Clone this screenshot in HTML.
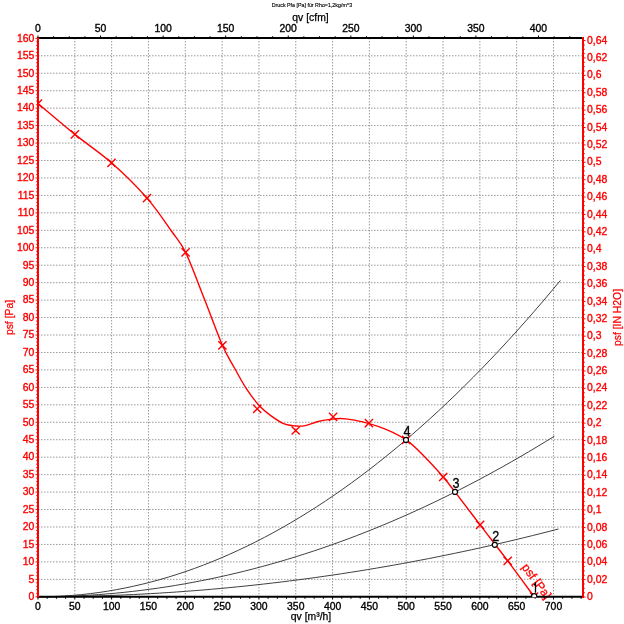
<!DOCTYPE html><html><head><meta charset="utf-8"><style>
html,body{margin:0;padding:0;background:#fff;}
svg{display:block;filter:blur(0.3px);font-family:"Liberation Sans",sans-serif;}
</style></head><body>
<svg width="624" height="624" viewBox="0 0 624 624">
<rect width="624" height="624" fill="#fff"/>
<path d="M74.82 38.0V597.0M111.64 38.0V597.0M148.46 38.0V597.0M185.29 38.0V597.0M222.11 38.0V597.0M258.93 38.0V597.0M295.75 38.0V597.0M332.57 38.0V597.0M369.39 38.0V597.0M406.21 38.0V597.0M443.04 38.0V597.0M479.86 38.0V597.0M516.68 38.0V597.0M553.50 38.0V597.0M38.0 579.35H583.0M38.0 561.90H583.0M38.0 544.44H583.0M38.0 526.99H583.0M38.0 509.54H583.0M38.0 492.09H583.0M38.0 474.64H583.0M38.0 457.18H583.0M38.0 439.73H583.0M38.0 422.28H583.0M38.0 404.83H583.0M38.0 387.38H583.0M38.0 369.92H583.0M38.0 352.47H583.0M38.0 335.02H583.0M38.0 317.57H583.0M38.0 300.12H583.0M38.0 282.66H583.0M38.0 265.21H583.0M38.0 247.76H583.0M38.0 230.31H583.0M38.0 212.86H583.0M38.0 195.40H583.0M38.0 177.95H583.0M38.0 160.50H583.0M38.0 143.05H583.0M38.0 125.60H583.0M38.0 108.14H583.0M38.0 90.69H583.0M38.0 73.24H583.0M38.0 55.79H583.0" stroke="#9a9a9a" stroke-width="1" stroke-dasharray="1.5 1.5" fill="none"/>
<polyline points="38.00,596.80 46.71,596.71 55.41,596.45 64.12,596.01 72.83,595.39 81.54,594.60 90.24,593.64 98.95,592.49 107.66,591.18 116.36,589.68 125.07,588.01 133.78,586.17 142.48,584.15 151.19,581.95 159.90,579.58 168.61,577.03 177.31,574.30 186.02,571.40 194.73,568.33 203.43,565.08 212.14,561.65 220.85,558.05 229.55,554.27 238.26,550.31 246.97,546.18 255.68,541.88 264.38,537.40 273.09,532.74 281.80,527.91 290.50,522.90 299.21,517.71 307.92,512.35 316.63,506.82 325.33,501.10 334.04,495.22 342.75,489.15 351.45,482.91 360.16,476.50 368.87,469.91 377.57,463.14 386.28,456.20 394.99,449.08 403.70,441.79 412.40,434.32 421.11,426.67 429.82,418.85 438.52,410.86 447.23,402.68 455.94,394.33 464.64,385.81 473.35,377.11 482.06,368.24 490.77,359.18 499.47,349.96 508.18,340.55 516.89,330.98 525.59,321.22 534.30,311.29 543.01,301.19 551.72,290.90 560.42,280.45" fill="none" stroke="#404040" stroke-width="1.0"/>
<polyline points="38.00,596.80 46.61,596.76 55.21,596.62 63.82,596.40 72.43,596.09 81.03,595.68 89.64,595.19 98.24,594.61 106.85,593.94 115.46,593.19 124.06,592.34 132.67,591.40 141.28,590.37 149.88,589.26 158.49,588.05 167.10,586.76 175.70,585.38 184.31,583.90 192.92,582.34 201.52,580.69 210.13,578.95 218.73,577.12 227.34,575.20 235.95,573.20 244.55,571.10 253.16,568.91 261.77,566.64 270.37,564.27 278.98,561.82 287.59,559.27 296.19,556.64 304.80,553.92 313.40,551.11 322.01,548.21 330.62,545.22 339.22,542.14 347.83,538.97 356.44,535.71 365.04,532.37 373.65,528.93 382.26,525.41 390.86,521.79 399.47,518.09 408.07,514.30 416.68,510.42 425.29,506.44 433.89,502.38 442.50,498.23 451.11,493.99 459.71,489.67 468.32,485.25 476.93,480.74 485.53,476.15 494.14,471.46 502.75,466.69 511.35,461.82 519.96,456.87 528.56,451.83 537.17,446.70 545.78,441.48 554.38,436.17" fill="none" stroke="#404040" stroke-width="1.0"/>
<polyline points="38.00,596.80 46.68,596.78 55.35,596.72 64.03,596.63 72.70,596.50 81.38,596.33 90.05,596.12 98.73,595.88 107.40,595.59 116.08,595.27 124.75,594.92 133.43,594.52 142.10,594.09 150.78,593.62 159.45,593.11 168.13,592.56 176.80,591.98 185.48,591.35 194.15,590.70 202.83,590.00 211.50,589.26 220.18,588.49 228.85,587.68 237.53,586.83 246.20,585.95 254.88,585.02 263.55,584.06 272.23,583.06 280.90,582.03 289.58,580.95 298.25,579.84 306.93,578.69 315.60,577.51 324.28,576.28 332.95,575.02 341.63,573.72 350.30,572.38 358.98,571.01 367.65,569.59 376.33,568.14 385.01,566.65 393.68,565.13 402.36,563.56 411.03,561.96 419.71,560.32 428.38,558.65 437.06,556.93 445.73,555.18 454.41,553.39 463.08,551.56 471.76,549.70 480.43,547.79 489.11,545.85 497.78,543.87 506.46,541.86 515.13,539.80 523.81,537.71 532.48,535.58 541.16,533.42 549.83,531.21 558.51,528.97" fill="none" stroke="#404040" stroke-width="1.0"/>
<defs><clipPath id="pc"><rect x="38" y="38" width="545" height="559"/></clipPath></defs>
<path clip-path="url(#pc)" d="M38,103.5C44.15,108.65 62.65,124.52 74.9,134.4C87.15,144.28 99.48,152.18 111.5,162.8C123.52,173.42 137.02,186.73 147,198.1C156.98,209.47 164.97,221.95 171.4,231C177.83,240.05 180.17,241.22 185.6,252.4C191.03,263.58 197.87,282.62 204,298.1C210.13,313.58 217.32,333.65 222.4,345.3C227.48,356.95 230.48,360.73 234.5,368C238.52,375.27 242.32,382.57 246.5,388.9C250.68,395.23 255.55,401.55 259.6,406C263.65,410.45 266.78,412.65 270.8,415.6C274.82,418.55 279.55,421.97 283.7,423.7C287.85,425.43 292.10,425.68 295.7,426C299.30,426.32 301.70,426.32 305.3,425.6C308.90,424.88 313.43,422.70 317.3,421.7C321.17,420.70 323.72,420.07 328.5,419.6C333.28,419.13 337.75,417.77 346,418.9C354.25,420.03 368.00,422.92 378,426.4C388.00,429.88 398.03,434.53 406,439.8C413.97,445.07 419.60,451.80 425.8,458C432.00,464.20 438.33,471.35 443.2,477C448.07,482.65 448.85,483.92 455,491.9C461.15,499.88 471.32,513.40 480.1,524.9C488.88,536.40 498.70,548.95 507.7,560.9C516.70,572.85 529.70,590.65 534.1,596.6" fill="none" stroke="#ff0000" stroke-width="1.4" stroke-linejoin="round"/>
<path clip-path="url(#pc)" d="M33.90 99.40L42.10 107.60M33.90 107.60L42.10 99.40M70.80 130.30L79.00 138.50M70.80 138.50L79.00 130.30M107.40 158.70L115.60 166.90M107.40 166.90L115.60 158.70M142.90 194.00L151.10 202.20M142.90 202.20L151.10 194.00M181.50 248.30L189.70 256.50M181.50 256.50L189.70 248.30M218.30 341.20L226.50 349.40M218.30 349.40L226.50 341.20M253.10 404.70L261.30 412.90M253.10 412.90L261.30 404.70M291.60 426.40L299.80 434.60M291.60 434.60L299.80 426.40M329.00 412.80L337.20 421.00M329.00 421.00L337.20 412.80M364.80 419.10L373.00 427.30M364.80 427.30L373.00 419.10M402.00 435.70L410.20 443.90M402.00 443.90L410.20 435.70M439.10 472.90L447.30 481.10M439.10 481.10L447.30 472.90M476.00 520.80L484.20 529.00M476.00 529.00L484.20 520.80M503.60 556.80L511.80 565.00M503.60 565.00L511.80 556.80M530.00 592.50L538.20 600.70M530.00 600.70L538.20 592.50" stroke="#ff0000" stroke-width="1.4" fill="none"/>
<text x="0" y="0" fill="#ff0000" font-size="12" stroke="#ff0000" stroke-width="0.25" transform="translate(521.3,567.3) rotate(53.5)">psf [Pa]</text>
<circle cx="406.0" cy="439.9" r="2.5" fill="#fff" stroke="#000" stroke-width="1.15"/>
<text x="0" y="0" font-size="14.6" text-anchor="middle" fill="#000" stroke="#000" stroke-width="0.3" transform="translate(407.00,435.90) scale(0.865,1)">4</text>
<circle cx="455.0" cy="491.9" r="2.5" fill="#fff" stroke="#000" stroke-width="1.15"/>
<text x="0" y="0" font-size="14.6" text-anchor="middle" fill="#000" stroke="#000" stroke-width="0.3" transform="translate(456.00,487.90) scale(0.865,1)">3</text>
<circle cx="494.8" cy="544.8" r="2.5" fill="#fff" stroke="#000" stroke-width="1.15"/>
<text x="0" y="0" font-size="14.6" text-anchor="middle" fill="#000" stroke="#000" stroke-width="0.3" transform="translate(495.80,540.80) scale(0.865,1)">2</text>
<path d="M37 38H584M37 596.7H584" stroke="#000" stroke-width="2"/>
<path d="M38.0 37V598M583.0 37V598" stroke="#ff0000" stroke-width="2"/>
<path d="M35.50 596.80H38.0M36.20 593.31H38.0M36.20 589.82H38.0M36.20 586.33H38.0M36.20 582.84H38.0M35.50 579.35H38.0M36.20 575.86H38.0M36.20 572.37H38.0M36.20 568.88H38.0M36.20 565.39H38.0M35.50 561.90H38.0M36.20 558.41H38.0M36.20 554.92H38.0M36.20 551.42H38.0M36.20 547.93H38.0M35.50 544.44H38.0M36.20 540.95H38.0M36.20 537.46H38.0M36.20 533.97H38.0M36.20 530.48H38.0M35.50 526.99H38.0M36.20 523.50H38.0M36.20 520.01H38.0M36.20 516.52H38.0M36.20 513.03H38.0M35.50 509.54H38.0M36.20 506.05H38.0M36.20 502.56H38.0M36.20 499.07H38.0M36.20 495.58H38.0M35.50 492.09H38.0M36.20 488.60H38.0M36.20 485.11H38.0M36.20 481.62H38.0M36.20 478.13H38.0M35.50 474.64H38.0M36.20 471.15H38.0M36.20 467.66H38.0M36.20 464.16H38.0M36.20 460.67H38.0M35.50 457.18H38.0M36.20 453.69H38.0M36.20 450.20H38.0M36.20 446.71H38.0M36.20 443.22H38.0M35.50 439.73H38.0M36.20 436.24H38.0M36.20 432.75H38.0M36.20 429.26H38.0M36.20 425.77H38.0M35.50 422.28H38.0M36.20 418.79H38.0M36.20 415.30H38.0M36.20 411.81H38.0M36.20 408.32H38.0M35.50 404.83H38.0M36.20 401.34H38.0M36.20 397.85H38.0M36.20 394.36H38.0M36.20 390.87H38.0M35.50 387.38H38.0M36.20 383.89H38.0M36.20 380.40H38.0M36.20 376.90H38.0M36.20 373.41H38.0M35.50 369.92H38.0M36.20 366.43H38.0M36.20 362.94H38.0M36.20 359.45H38.0M36.20 355.96H38.0M35.50 352.47H38.0M36.20 348.98H38.0M36.20 345.49H38.0M36.20 342.00H38.0M36.20 338.51H38.0M35.50 335.02H38.0M36.20 331.53H38.0M36.20 328.04H38.0M36.20 324.55H38.0M36.20 321.06H38.0M35.50 317.57H38.0M36.20 314.08H38.0M36.20 310.59H38.0M36.20 307.10H38.0M36.20 303.61H38.0M35.50 300.12H38.0M36.20 296.63H38.0M36.20 293.14H38.0M36.20 289.64H38.0M36.20 286.15H38.0M35.50 282.66H38.0M36.20 279.17H38.0M36.20 275.68H38.0M36.20 272.19H38.0M36.20 268.70H38.0M35.50 265.21H38.0M36.20 261.72H38.0M36.20 258.23H38.0M36.20 254.74H38.0M36.20 251.25H38.0M35.50 247.76H38.0M36.20 244.27H38.0M36.20 240.78H38.0M36.20 237.29H38.0M36.20 233.80H38.0M35.50 230.31H38.0M36.20 226.82H38.0M36.20 223.33H38.0M36.20 219.84H38.0M36.20 216.35H38.0M35.50 212.86H38.0M36.20 209.37H38.0M36.20 205.88H38.0M36.20 202.38H38.0M36.20 198.89H38.0M35.50 195.40H38.0M36.20 191.91H38.0M36.20 188.42H38.0M36.20 184.93H38.0M36.20 181.44H38.0M35.50 177.95H38.0M36.20 174.46H38.0M36.20 170.97H38.0M36.20 167.48H38.0M36.20 163.99H38.0M35.50 160.50H38.0M36.20 157.01H38.0M36.20 153.52H38.0M36.20 150.03H38.0M36.20 146.54H38.0M35.50 143.05H38.0M36.20 139.56H38.0M36.20 136.07H38.0M36.20 132.58H38.0M36.20 129.09H38.0M35.50 125.60H38.0M36.20 122.11H38.0M36.20 118.62H38.0M36.20 115.12H38.0M36.20 111.63H38.0M35.50 108.14H38.0M36.20 104.65H38.0M36.20 101.16H38.0M36.20 97.67H38.0M36.20 94.18H38.0M35.50 90.69H38.0M36.20 87.20H38.0M36.20 83.71H38.0M36.20 80.22H38.0M36.20 76.73H38.0M35.50 73.24H38.0M36.20 69.75H38.0M36.20 66.26H38.0M36.20 62.77H38.0M36.20 59.28H38.0M35.50 55.79H38.0M36.20 52.30H38.0M36.20 48.81H38.0M36.20 45.32H38.0M36.20 41.83H38.0M35.50 38.34H38.0" stroke="#ff0000" stroke-width="1"/>
<path d="M583.0 597.00H585.50M583.0 592.65H584.80M583.0 588.31H584.80M583.0 583.96H584.80M583.0 579.61H585.50M583.0 575.26H584.80M583.0 570.92H584.80M583.0 566.57H584.80M583.0 562.22H585.50M583.0 557.88H584.80M583.0 553.53H584.80M583.0 549.18H584.80M583.0 544.83H585.50M583.0 540.49H584.80M583.0 536.14H584.80M583.0 531.79H584.80M583.0 527.45H585.50M583.0 523.10H584.80M583.0 518.75H584.80M583.0 514.41H584.80M583.0 510.06H585.50M583.0 505.71H584.80M583.0 501.36H584.80M583.0 497.02H584.80M583.0 492.67H585.50M583.0 488.32H584.80M583.0 483.98H584.80M583.0 479.63H584.80M583.0 475.28H585.50M583.0 470.93H584.80M583.0 466.59H584.80M583.0 462.24H584.80M583.0 457.89H585.50M583.0 453.55H584.80M583.0 449.20H584.80M583.0 444.85H584.80M583.0 440.50H585.50M583.0 436.16H584.80M583.0 431.81H584.80M583.0 427.46H584.80M583.0 423.12H585.50M583.0 418.77H584.80M583.0 414.42H584.80M583.0 410.07H584.80M583.0 405.73H585.50M583.0 401.38H584.80M583.0 397.03H584.80M583.0 392.69H584.80M583.0 388.34H585.50M583.0 383.99H584.80M583.0 379.64H584.80M583.0 375.30H584.80M583.0 370.95H585.50M583.0 366.60H584.80M583.0 362.26H584.80M583.0 357.91H584.80M583.0 353.56H585.50M583.0 349.22H584.80M583.0 344.87H584.80M583.0 340.52H584.80M583.0 336.17H585.50M583.0 331.83H584.80M583.0 327.48H584.80M583.0 323.13H584.80M583.0 318.79H585.50M583.0 314.44H584.80M583.0 310.09H584.80M583.0 305.74H584.80M583.0 301.40H585.50M583.0 297.05H584.80M583.0 292.70H584.80M583.0 288.36H584.80M583.0 284.01H585.50M583.0 279.66H584.80M583.0 275.31H584.80M583.0 270.97H584.80M583.0 266.62H585.50M583.0 262.27H584.80M583.0 257.93H584.80M583.0 253.58H584.80M583.0 249.23H585.50M583.0 244.88H584.80M583.0 240.54H584.80M583.0 236.19H584.80M583.0 231.84H585.50M583.0 227.50H584.80M583.0 223.15H584.80M583.0 218.80H584.80M583.0 214.46H585.50M583.0 210.11H584.80M583.0 205.76H584.80M583.0 201.41H584.80M583.0 197.07H585.50M583.0 192.72H584.80M583.0 188.37H584.80M583.0 184.03H584.80M583.0 179.68H585.50M583.0 175.33H584.80M583.0 170.98H584.80M583.0 166.64H584.80M583.0 162.29H585.50M583.0 157.94H584.80M583.0 153.60H584.80M583.0 149.25H584.80M583.0 144.90H585.50M583.0 140.55H584.80M583.0 136.21H584.80M583.0 131.86H584.80M583.0 127.51H585.50M583.0 123.17H584.80M583.0 118.82H584.80M583.0 114.47H584.80M583.0 110.12H585.50M583.0 105.78H584.80M583.0 101.43H584.80M583.0 97.08H584.80M583.0 92.74H585.50M583.0 88.39H584.80M583.0 84.04H584.80M583.0 79.69H584.80M583.0 75.35H585.50M583.0 71.00H584.80M583.0 66.65H584.80M583.0 62.31H584.80M583.0 57.96H585.50M583.0 53.61H584.80M583.0 49.27H584.80M583.0 44.92H584.80M583.0 40.57H585.50" stroke="#ff0000" stroke-width="1"/>
<path d="M38.00 597.0V599.50M47.21 597.0V598.80M56.41 597.0V598.80M65.62 597.0V598.80M74.82 597.0V599.50M84.03 597.0V598.80M93.23 597.0V598.80M102.44 597.0V598.80M111.64 597.0V599.50M120.85 597.0V598.80M130.05 597.0V598.80M139.26 597.0V598.80M148.46 597.0V599.50M157.67 597.0V598.80M166.88 597.0V598.80M176.08 597.0V598.80M185.29 597.0V599.50M194.49 597.0V598.80M203.70 597.0V598.80M212.90 597.0V598.80M222.11 597.0V599.50M231.31 597.0V598.80M240.52 597.0V598.80M249.72 597.0V598.80M258.93 597.0V599.50M268.13 597.0V598.80M277.34 597.0V598.80M286.54 597.0V598.80M295.75 597.0V599.50M304.96 597.0V598.80M314.16 597.0V598.80M323.37 597.0V598.80M332.57 597.0V599.50M341.78 597.0V598.80M350.98 597.0V598.80M360.19 597.0V598.80M369.39 597.0V599.50M378.60 597.0V598.80M387.80 597.0V598.80M397.01 597.0V598.80M406.21 597.0V599.50M415.42 597.0V598.80M424.62 597.0V598.80M433.83 597.0V598.80M443.04 597.0V599.50M452.24 597.0V598.80M461.45 597.0V598.80M470.65 597.0V598.80M479.86 597.0V599.50M489.06 597.0V598.80M498.27 597.0V598.80M507.47 597.0V598.80M516.68 597.0V599.50M525.88 597.0V598.80M535.09 597.0V598.80M544.29 597.0V598.80M553.50 597.0V599.50M562.71 597.0V598.80M571.91 597.0V598.80M581.12 597.0V598.80" stroke="#000" stroke-width="1"/>
<path d="M38.00 35.50V38.0M53.64 36.20V38.0M69.28 36.20V38.0M84.92 36.20V38.0M100.56 35.50V38.0M116.20 36.20V38.0M131.84 36.20V38.0M147.48 36.20V38.0M163.12 35.50V38.0M178.76 36.20V38.0M194.40 36.20V38.0M210.04 36.20V38.0M225.68 35.50V38.0M241.32 36.20V38.0M256.96 36.20V38.0M272.60 36.20V38.0M288.24 35.50V38.0M303.88 36.20V38.0M319.52 36.20V38.0M335.16 36.20V38.0M350.80 35.50V38.0M366.44 36.20V38.0M382.08 36.20V38.0M397.72 36.20V38.0M413.36 35.50V38.0M429.00 36.20V38.0M444.64 36.20V38.0M460.28 36.20V38.0M475.92 35.50V38.0M491.56 36.20V38.0M507.20 36.20V38.0M522.84 36.20V38.0M538.48 35.50V38.0M554.12 36.20V38.0M569.76 36.20V38.0" stroke="#000" stroke-width="1"/>
<defs><clipPath id="pc2"><rect x="0" y="0" width="624" height="597.2"/></clipPath></defs>
<circle clip-path="url(#pc2)" cx="534.2" cy="596.3" r="2.6" fill="#fff" stroke="#000" stroke-width="1.2"/>
<path d="M535.5 592.8V583.3L533.9 585.3" fill="none" stroke="#000" stroke-width="1.3" stroke-linejoin="miter"/>
<g fill="#ff0000" stroke="#ff0000" stroke-width="0.35" font-size="10.4"><text x="34.3" y="600.10" text-anchor="end">0</text><text x="34.3" y="582.65" text-anchor="end">5</text><text x="34.3" y="565.20" text-anchor="end">10</text><text x="34.3" y="547.74" text-anchor="end">15</text><text x="34.3" y="530.29" text-anchor="end">20</text><text x="34.3" y="512.84" text-anchor="end">25</text><text x="34.3" y="495.39" text-anchor="end">30</text><text x="34.3" y="477.94" text-anchor="end">35</text><text x="34.3" y="460.48" text-anchor="end">40</text><text x="34.3" y="443.03" text-anchor="end">45</text><text x="34.3" y="425.58" text-anchor="end">50</text><text x="34.3" y="408.13" text-anchor="end">55</text><text x="34.3" y="390.68" text-anchor="end">60</text><text x="34.3" y="373.22" text-anchor="end">65</text><text x="34.3" y="355.77" text-anchor="end">70</text><text x="34.3" y="338.32" text-anchor="end">75</text><text x="34.3" y="320.87" text-anchor="end">80</text><text x="34.3" y="303.42" text-anchor="end">85</text><text x="34.3" y="285.96" text-anchor="end">90</text><text x="34.3" y="268.51" text-anchor="end">95</text><text x="34.3" y="251.06" text-anchor="end">100</text><text x="34.3" y="233.61" text-anchor="end">105</text><text x="34.3" y="216.16" text-anchor="end">110</text><text x="34.3" y="198.70" text-anchor="end">115</text><text x="34.3" y="181.25" text-anchor="end">120</text><text x="34.3" y="163.80" text-anchor="end">125</text><text x="34.3" y="146.35" text-anchor="end">130</text><text x="34.3" y="128.90" text-anchor="end">135</text><text x="34.3" y="111.44" text-anchor="end">140</text><text x="34.3" y="93.99" text-anchor="end">145</text><text x="34.3" y="76.54" text-anchor="end">150</text><text x="34.3" y="59.09" text-anchor="end">155</text><text x="34.3" y="41.64" text-anchor="end">160</text></g>
<g fill="#ff0000" stroke="#ff0000" stroke-width="0.35" font-size="10.4"><text x="587" y="600.10">0</text><text x="587" y="582.71">0,02</text><text x="587" y="565.32">0,04</text><text x="587" y="547.93">0,06</text><text x="587" y="530.55">0,08</text><text x="587" y="513.16">0,1</text><text x="587" y="495.77">0,12</text><text x="587" y="478.38">0,14</text><text x="587" y="460.99">0,16</text><text x="587" y="443.60">0,18</text><text x="587" y="426.22">0,2</text><text x="587" y="408.83">0,22</text><text x="587" y="391.44">0,24</text><text x="587" y="374.05">0,26</text><text x="587" y="356.66">0,28</text><text x="587" y="339.27">0,3</text><text x="587" y="321.89">0,32</text><text x="587" y="304.50">0,34</text><text x="587" y="287.11">0,36</text><text x="587" y="269.72">0,38</text><text x="587" y="252.33">0,4</text><text x="587" y="234.94">0,42</text><text x="587" y="217.56">0,44</text><text x="587" y="200.17">0,46</text><text x="587" y="182.78">0,48</text><text x="587" y="165.39">0,5</text><text x="587" y="148.00">0,52</text><text x="587" y="130.61">0,54</text><text x="587" y="113.22">0,56</text><text x="587" y="95.84">0,58</text><text x="587" y="78.45">0,6</text><text x="587" y="61.06">0,62</text><text x="587" y="43.67">0,64</text></g>
<g fill="#000" stroke="#000" stroke-width="0.35" font-size="10.4"><text x="38.00" y="610" text-anchor="middle">0</text><text x="74.82" y="610" text-anchor="middle">50</text><text x="111.64" y="610" text-anchor="middle">100</text><text x="148.46" y="610" text-anchor="middle">150</text><text x="185.29" y="610" text-anchor="middle">200</text><text x="222.11" y="610" text-anchor="middle">250</text><text x="258.93" y="610" text-anchor="middle">300</text><text x="295.75" y="610" text-anchor="middle">350</text><text x="332.57" y="610" text-anchor="middle">400</text><text x="369.39" y="610" text-anchor="middle">450</text><text x="406.21" y="610" text-anchor="middle">500</text><text x="443.04" y="610" text-anchor="middle">550</text><text x="479.86" y="610" text-anchor="middle">600</text><text x="516.68" y="610" text-anchor="middle">650</text><text x="553.50" y="610" text-anchor="middle">700</text></g>
<g fill="#000" stroke="#000" stroke-width="0.35" font-size="10.4"><text x="38.00" y="32" text-anchor="middle">0</text><text x="100.56" y="32" text-anchor="middle">50</text><text x="163.12" y="32" text-anchor="middle">100</text><text x="225.68" y="32" text-anchor="middle">150</text><text x="288.24" y="32" text-anchor="middle">200</text><text x="350.80" y="32" text-anchor="middle">250</text><text x="413.36" y="32" text-anchor="middle">300</text><text x="475.92" y="32" text-anchor="middle">350</text><text x="538.48" y="32" text-anchor="middle">400</text></g>
<text x="310.5" y="20.5" font-size="10.4" text-anchor="middle" fill="#000" stroke="#000" stroke-width="0.25">qv [cfm]</text>
<text x="311" y="620" font-size="10.4" text-anchor="middle" fill="#000" stroke="#000" stroke-width="0.25">qv [m³/h]</text>
<text x="0" y="0" font-size="5.9" text-anchor="middle" fill="#000" stroke="#000" stroke-width="0.15" transform="translate(312,6.6) scale(0.9,1)">Druck Pfa [Pa] für Rho=1,2kg/m^3</text>
<text x="0" y="0" font-size="10.4" text-anchor="middle" fill="#ff0000" stroke="#ff0000" stroke-width="0.25" transform="translate(12.5,317.5) rotate(-90)">psf [Pa]</text>
<text x="0" y="0" font-size="10.4" text-anchor="middle" fill="#ff0000" stroke="#ff0000" stroke-width="0.25" transform="translate(621,317.5) rotate(-90)">psf [IN H2O]</text>
</svg></body></html>
